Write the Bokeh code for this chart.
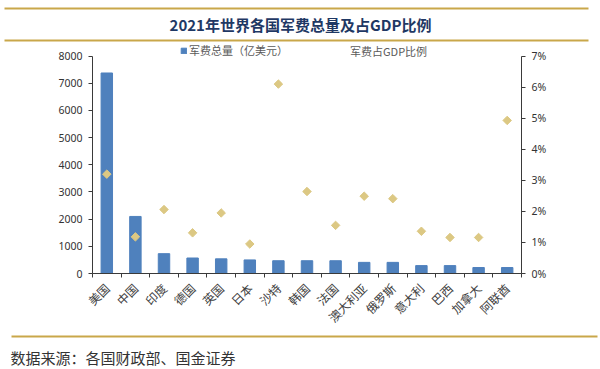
import math
from bokeh.plotting import figure
from bokeh.layouts import column
from bokeh.models import (Range1d, LinearAxis, FixedTicker, Legend, LegendItem, ColumnDataSource)
from bokeh.embed import file_html
from bokeh.resources import INLINE
from bokeh.core.properties import value

# ---- data ----
countries = ["美国", "中国", "印度", "德国", "英国", "日本", "沙特", "韩国", "法国",
             "澳大利亚", "俄罗斯", "意大利", "巴西", "加拿大", "阿联酋"]
spending = [7380, 2100, 730, 570, 540, 500, 470, 470, 470, 410, 410, 290, 290, 220, 220]
gdp_share = [3.20, 1.18, 2.06, 1.31, 1.95, 0.95, 6.10, 2.64, 1.55, 2.49, 2.41, 1.36, 1.16, 1.16, 4.93]
left_ticks = [0, 1000, 2000, 3000, 4000, 5000, 6000, 7000, 8000]
right_ticks = [0, 1, 2, 3, 4, 5, 6, 7]
title_text = "2021年世界各国军费总量及占GDP比例"
source_text = "数据来源：各国财政部、国金证券"
bar_label = "军费总量（亿美元）"
pct_label = "军费占GDP比例"

BAR = "#4F81BD"
DIA = "#DCC883"
GOLD = "#C9A74A"
W = 600
TOP_H, MAIN_H, BOT_H = 44, 290, 35
FL, FR = 92, 521                # frame left/right (page px)
FT, AXTOP, FB = 44, 56, 280     # frame top, top of axes, frame bottom (page px)
CJK = "Noto Sans CJK SC"
NUM = "Noto Sans"


def no_align(f):
    try:
        f.frame_align = False
    except Exception:
        pass


def deco_fig(h, y0):
    f = figure(width=W, height=h, x_range=Range1d(0, W), y_range=Range1d(y0 + h, y0),
               output_backend="svg", toolbar_location=None,
               x_axis_location=None, y_axis_location=None, min_border=0)
    f.outline_line_color = None
    f.xgrid.visible = False
    f.ygrid.visible = False
    f.border_fill_color = "white"
    f.background_fill_color = "white"
    no_align(f)
    return f

# ---- top: title band ----
top = deco_fig(TOP_H, 0)
top.segment(x0=[4, 4], x1=[588, 588], y0=[8, 40], y1=[8, 40], line_width=2, color=GOLD)
top.text(x=[300], y=[23.5], text=[title_text], text_align="center", text_baseline="middle",
         text_font=value(CJK), text_font_style="bold", text_font_size="15px",
         text_color="#1F3864")

# ---- main chart ----
n = len(countries)
centers = [i + 0.5 for i in range(n)]
bounds = list(range(n + 1))
src = ColumnDataSource(dict(x=centers, c=countries, v=spending, g=gdp_share))

stretch = (FB - FT) / (FB - AXTOP)   # extra headroom so that the frame reaches the legend
p = figure(width=W, height=MAIN_H, x_range=Range1d(0, n),
           y_range=Range1d(left_ticks[0], left_ticks[-1] * stretch),
           output_backend="svg", toolbar_location=None, x_axis_location=None,
           min_border_left=FL, min_border_right=W - FR, min_border_top=0,
           min_border_bottom=TOP_H + MAIN_H - FB)
p.outline_line_color = None
p.xgrid.visible = False
p.ygrid.visible = False
p.background_fill_color = "white"
p.border_fill_color = "white"
no_align(p)

p.extra_y_ranges = {"pct": Range1d(right_ticks[0], right_ticks[-1] * stretch)}

bars = p.vbar(x="x", top="v", width=0.4, source=src, color=BAR)
dots = p.scatter(x="x", y="g", source=src, marker="square", size=6, angle=math.pi / 4,
                 color=DIA, y_range_name="pct")
leg_dia = p.scatter(x=[], y=[], marker="diamond", size=8, color=DIA, y_range_name="pct")

AX = "#3a3a3a"
def style_axis(ax):
    ax.axis_line_color = AX
    ax.major_tick_line_color = AX
    ax.major_tick_out = 4
    ax.major_tick_in = 0
    ax.minor_tick_line_color = None
    ax.major_label_text_font = NUM
    ax.major_label_text_font_size = "10.5px"
    ax.major_label_text_color = "#333333"

ly = p.yaxis[0]
ly.ticker = FixedTicker(ticks=left_ticks)
ly.bounds = (left_ticks[0], left_ticks[-1])
style_axis(ly)
ly.major_label_standoff = 6

ry = LinearAxis(y_range_name="pct", ticker=FixedTicker(ticks=right_ticks),
                bounds=(right_ticks[0], right_ticks[-1]),
                major_label_overrides={t: f"{t}%" for t in right_ticks})
style_axis(ry)
ry.major_label_standoff = 6
p.add_layout(ry, "right")

axA = LinearAxis(ticker=FixedTicker(ticks=bounds),
                 major_label_overrides={b: "" for b in bounds})
style_axis(axA)
axA.major_label_standoff = 0
axA.major_label_text_font_size = "1px"
p.add_layout(axA, "below")

axB = LinearAxis(ticker=FixedTicker(ticks=centers),
                 major_label_overrides={cx: c for cx, c in zip(centers, countries)},
                 major_label_orientation=math.pi / 4)
axB.axis_line_color = None
axB.major_tick_line_color = None
axB.minor_tick_line_color = None
axB.major_label_text_font = CJK
axB.major_label_text_font_size = "12px"
axB.major_label_text_color = "#404040"
axB.major_label_standoff = 2
p.add_layout(axB, "below")

# legends (location is relative to frame bottom-left)
def mk_legend(label, rend, page_x, gsize, standoff, center_y=59):
    lh = 12
    box_h = max(lh, gsize)
    lg = Legend(items=[LegendItem(label=label, renderers=[rend])],
                location=(page_x - FL, FB - (center_y + box_h / 2)),
                orientation="horizontal", padding=0, margin=0, spacing=0,
                glyph_width=gsize, glyph_height=gsize, label_standoff=standoff,
                label_text_font=CJK, label_text_font_size="11px",
                label_text_color="#595959", border_line_color=None,
                background_fill_alpha=0, label_height=lh)
    p.add_layout(lg, "center")

mk_legend(bar_label, bars, 180, 7, 2)
mk_legend(pct_label, leg_dia, 336, 14, 0)

# ---- bottom: source band ----
bot = deco_fig(BOT_H, TOP_H + MAIN_H)
bot.segment(x0=[11], x1=[597], y0=[336], y1=[336], line_width=2, color=GOLD)
bot.text(x=[10], y=[357], text=[source_text], text_align="left", text_baseline="middle",
         text_font=value(CJK), text_font_size="15px", text_color="#333333")

layout = column(top, p, bot, spacing=0)
html = file_html(layout, INLINE)
open("out.html", "w").write(html)
